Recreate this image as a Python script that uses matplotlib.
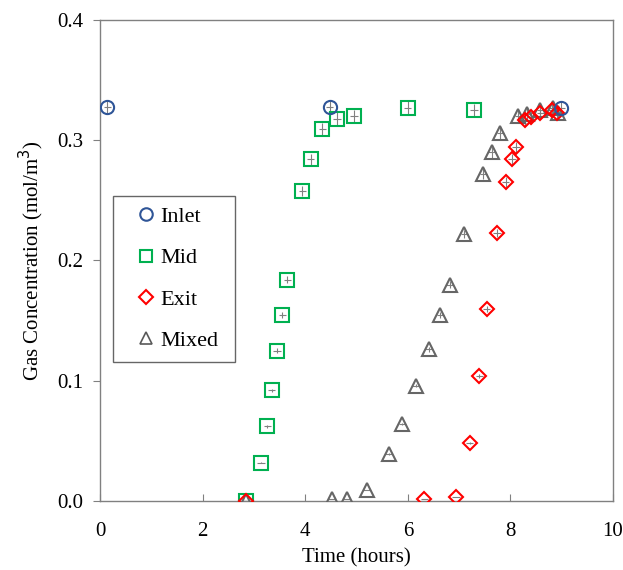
import numpy as np
import matplotlib.pyplot as plt
from matplotlib.lines import Line2D

plt.rcParams['font.family'] = ['Liberation Serif', 'DejaVu Serif']

# time (hours) and gas concentration (mol/m3)
inlet_t = [0.14, 4.48, 8.99]
inlet_c = [0.328, 0.328, 0.327]

mid_t = [2.85, 3.14, 3.26, 3.35, 3.45, 3.55, 3.65, 3.94, 4.11, 4.33, 4.62, 4.95, 6.00, 7.29]
mid_c = [0.0, 0.032, 0.062, 0.092, 0.125, 0.155, 0.184, 0.258, 0.284, 0.309, 0.318, 0.320, 0.327, 0.325]

exit_t = [2.85, 6.32, 6.94, 7.21, 7.39, 7.54, 7.74, 7.91, 8.03, 8.11, 8.28, 8.40, 8.58, 8.81, 8.91]
exit_c = [0.0, 0.002, 0.003, 0.048, 0.104, 0.160, 0.223, 0.265, 0.284, 0.294, 0.317, 0.319, 0.323, 0.325, 0.323]

mixed_t = [2.85, 4.52, 4.81, 5.20, 5.63, 5.89, 6.16, 6.41, 6.63, 6.82, 7.10, 7.47, 7.64, 7.80,
           8.15, 8.32, 8.58, 8.83, 8.93]
mixed_c = [0.0, 0.002, 0.002, 0.009, 0.039, 0.064, 0.096, 0.126, 0.155, 0.180, 0.222, 0.272,
           0.290, 0.306, 0.320, 0.322, 0.325, 0.327, 0.323]

time_err = 0.07      # hours
conc_rel_err = 0.016  # relative error on concentration

series = [
    ('Mid', mid_t, mid_c, 's', '#00B050'),
    ('Mixed', mixed_t, mixed_c, '^', '#666666'),
    ('Exit', exit_t, exit_c, 'D', '#FF0000'),
    ('Inlet', inlet_t, inlet_c, 'o', '#2F5597'),
]
sizes = {'s': 9.5, '^': 10, 'D': 7.5, 'o': 9.5}

fig = plt.figure(figsize=(6.23, 5.70), dpi=100)
ax = fig.add_axes([0.1605, 0.121, 0.8235, 0.844])

for name, t, c, m, col in series:
    c = np.array(c)
    ax.errorbar(t, c, xerr=time_err, yerr=conc_rel_err * c, fmt='none',
                ecolor='#808080', elinewidth=0.8, capsize=0, zorder=3)
    ax.plot(t, c, linestyle='none', marker=m, markersize=sizes[m],
            markerfacecolor='none', markeredgecolor=col, markeredgewidth=1.5, zorder=4)

ax.set_xlim(0, 10)
ax.set_ylim(0, 0.4)
ax.set_xticks([0, 2, 4, 6, 8, 10])
ax.set_yticks([0.0, 0.1, 0.2, 0.3, 0.4])
ax.set_yticklabels(['0.0', '0.1', '0.2', '0.3', '0.4'])
ax.tick_params(axis='x', direction='in', length=5, color='#808080', labelsize=15, pad=15)
ax.tick_params(axis='y', direction='out', length=5, color='#808080', labelsize=15, pad=7)
for s in ax.spines.values():
    s.set_color('#808080')
    s.set_linewidth(1.0)

ax.set_xlabel('Time (hours)', fontsize=15, labelpad=5)
ax.set_ylabel('Gas Concentration (mol/m$^3$)', fontsize=15, labelpad=8)

handles = [
    Line2D([], [], linestyle='none', marker='o', markersize=9, markerfacecolor='none',
           markeredgecolor='#2F5597', markeredgewidth=1.5, label='Inlet'),
    Line2D([], [], linestyle='none', marker='s', markersize=9, markerfacecolor='none',
           markeredgecolor='#00B050', markeredgewidth=1.5, label='Mid'),
    Line2D([], [], linestyle='none', marker='D', markersize=7.5, markerfacecolor='none',
           markeredgecolor='#FF0000', markeredgewidth=1.5, label='Exit'),
    Line2D([], [], linestyle='none', marker='^', markersize=9, markerfacecolor='none',
           markeredgecolor='#595959', markeredgewidth=1.2, label='Mixed'),
]
leg = ax.legend(handles=handles, loc='upper left',
                bbox_to_anchor=(0.025, 0.30, 0.238, 0.335), mode='expand',
                fontsize=16, frameon=True, fancybox=False, edgecolor='#404040',
                handlelength=2.0, handletextpad=-0.35, labelspacing=0.93,
                borderpad=0.5, borderaxespad=0)
leg.get_frame().set_linewidth(1.0)

fig.savefig('out.png', dpi=100)
